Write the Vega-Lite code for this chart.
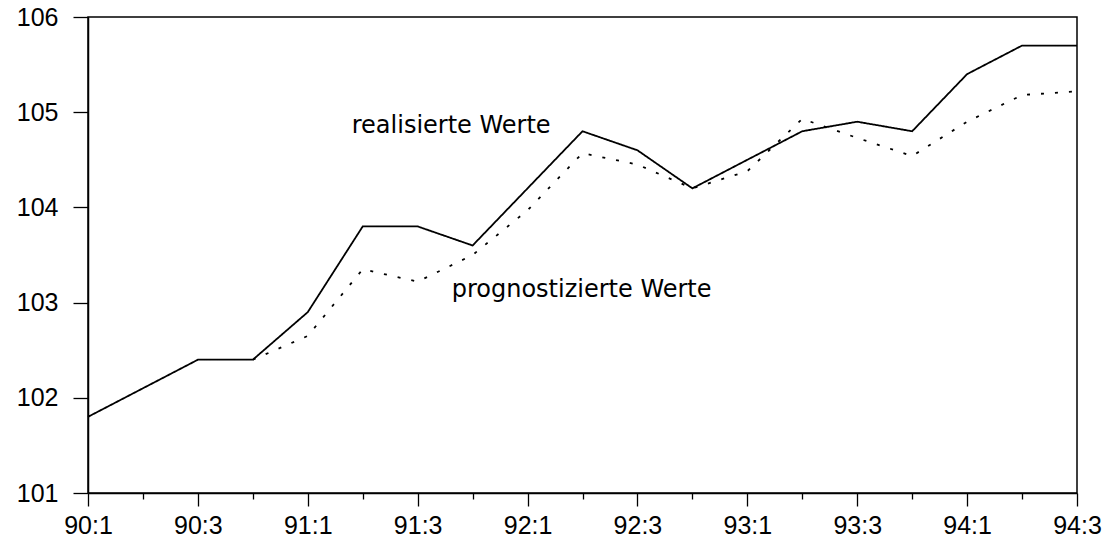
{
  "$schema": "https://vega.github.io/schema/vega-lite/v6.json",
  "width": 989,
  "height": 476,
  "autosize": {"type": "none"},
  "padding": {"left": 88, "top": 17, "right": 34, "bottom": 50},
  "background": "white",
  "config": {
    "view": {"stroke": "black", "strokeWidth": 1.5}
  },
  "datasets": {
    "series": [
      {"t": 0, "s": "real", "v": 101.8},
      {"t": 1, "s": "real", "v": 102.1},
      {"t": 2, "s": "real", "v": 102.4},
      {"t": 3, "s": "real", "v": 102.4},
      {"t": 4, "s": "real", "v": 102.9},
      {"t": 5, "s": "real", "v": 103.8},
      {"t": 6, "s": "real", "v": 103.8},
      {"t": 7, "s": "real", "v": 103.6},
      {"t": 8, "s": "real", "v": 104.2},
      {"t": 9, "s": "real", "v": 104.8},
      {"t": 10, "s": "real", "v": 104.6},
      {"t": 11, "s": "real", "v": 104.2},
      {"t": 12, "s": "real", "v": 104.5},
      {"t": 13, "s": "real", "v": 104.8},
      {"t": 14, "s": "real", "v": 104.9},
      {"t": 15, "s": "real", "v": 104.8},
      {"t": 16, "s": "real", "v": 105.4},
      {"t": 17, "s": "real", "v": 105.7},
      {"t": 18, "s": "real", "v": 105.7},
      {"t": 3, "s": "prog", "v": 102.4},
      {"t": 4, "s": "prog", "v": 102.65},
      {"t": 5, "s": "prog", "v": 103.35},
      {"t": 6, "s": "prog", "v": 103.22},
      {"t": 7, "s": "prog", "v": 103.5},
      {"t": 8, "s": "prog", "v": 103.97},
      {"t": 9, "s": "prog", "v": 104.57},
      {"t": 10, "s": "prog", "v": 104.45},
      {"t": 11, "s": "prog", "v": 104.2},
      {"t": 12, "s": "prog", "v": 104.38},
      {"t": 13, "s": "prog", "v": 104.93},
      {"t": 14, "s": "prog", "v": 104.73},
      {"t": 15, "s": "prog", "v": 104.54},
      {"t": 16, "s": "prog", "v": 104.9},
      {"t": 17, "s": "prog", "v": 105.18},
      {"t": 18, "s": "prog", "v": 105.22}
    ],
    "notes": [
      {"t": 4.8, "v": 104.78, "text": "realisierte Werte"},
      {"t": 6.62, "v": 103.06, "text": "prognostizierte Werte"}
    ]
  },
  "layer": [
    {
      "data": {"name": "series"},
      "mark": {"type": "line", "color": "black", "strokeWidth": 1.8},
      "encoding": {
        "x": {
          "field": "t", "type": "quantitative",
          "scale": {"domain": [0, 18], "nice": false, "zero": false},
          "axis": {
            "title": null, "grid": false,
            "domainColor": "black", "domainWidth": 1.5, "tickColor": "black", "tickWidth": 1.3,
            "labelColor": "black", "labelFont": "Liberation Sans", "labelFontSize": 25,
            "values": [0,1,2,3,4,5,6,7,8,9,10,11,12,13,14,15,16,17,18],
            "labelExpr": "datum.value % 2 === 0 ? (90 + floor(datum.value / 4)) + ':' + (datum.value % 4 + 1) : ''",
            "labelFlush": false, "labelOverlap": false,
            "tickSize": {"condition": {"test": "datum.value % 2 === 0", "value": 13}, "value": 6},
            "labelPadding": 7
          }
        },
        "y": {
          "field": "v", "type": "quantitative",
          "scale": {"domain": [101, 106], "nice": false, "zero": false},
          "axis": {
            "title": null, "grid": false,
            "domainColor": "black", "domainWidth": 1.5, "tickColor": "black", "tickWidth": 1.3,
            "labelColor": "black", "labelFont": "Liberation Sans", "labelFontSize": 25,
            "values": [101, 102, 103, 104, 105, 106],
            "tickSize": 15, "labelPadding": 15, "format": "d"
          }
        },
        "detail": {"field": "s"},
        "strokeDash": {
          "field": "s", "type": "nominal",
          "scale": {"domain": ["real", "prog"], "range": [[1, 0], [3, 11]]},
          "legend": null
        }
      }
    },
    {
      "data": {"name": "notes"},
      "mark": {"type": "text", "align": "left", "baseline": "alphabetic", "font": "DejaVu Sans", "fontSize": 24, "color": "black"},
      "encoding": {
        "x": {"field": "t", "type": "quantitative"},
        "y": {"field": "v", "type": "quantitative"},
        "text": {"field": "text"}
      }
    }
  ]
}
